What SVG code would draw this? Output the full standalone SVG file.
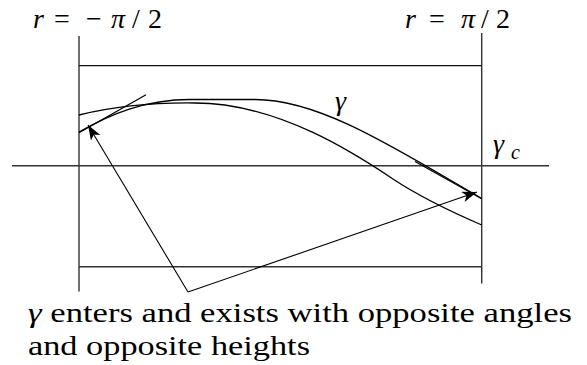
<svg xmlns="http://www.w3.org/2000/svg" width="587" height="365" viewBox="0 0 587 365">
<style>
.ax{stroke:#333;stroke-width:1.4;fill:none}
.bx{stroke:#111;stroke-width:1.2;fill:none}
.cv{stroke:#000;stroke-width:1.3;fill:none}
.ar{stroke:#000;stroke-width:1.1;fill:none}
.m{font-size:28px}
.i{font-style:italic}
.cap{font-size:27px}
</style>
<defs>
<marker id="ah" markerUnits="userSpaceOnUse" markerWidth="18" markerHeight="12" refX="15" refY="5.5" orient="auto">
<path d="M0,0 L15,5.5 L0,11 L4,5.5 z" fill="#000"/>
</marker>
</defs>
<rect width="587" height="365" fill="#fff"/>
<g id="frame">
<line class="ax" x1="79" y1="36" x2="79" y2="291.5"/>
<line class="ax" x1="481.7" y1="33" x2="481.7" y2="283.5"/>
<line class="bx" x1="79" y1="65.7" x2="481.7" y2="65.7"/>
<line class="ax" x1="79" y1="266.7" x2="481.7" y2="266.7"/>
<line class="ax" x1="12" y1="165.7" x2="549" y2="165.7"/>
</g>
<g id="curve-gamma">
<path class="cv" d="M79,132 C110,114.3 145,99.5 190,99.5 L255,99.5 C320,99.5 395,148 481.7,198.5"/>
<line class="cv" x1="79" y1="132.7" x2="146" y2="94.7"/>
<line class="cv" x1="415" y1="161.5" x2="481.7" y2="198.8"/>
</g>
<g id="curve-other">
<path class="cv" d="M79,115 C120,105 160,102.5 195,103 C280,103 360,157 393,179 C417,195 451.7,212 481.7,225"/>
</g>
<g id="connectors">
<line class="ar" x1="188" y1="292" x2="88" y2="125" marker-end="url(#ah)"/>
<line class="ar" x1="188" y1="292" x2="477" y2="192" marker-end="url(#ah)"/>
</g>
<g id="labels" font-family="Liberation Serif, serif" fill="#000">
<text class="m" y="28"><tspan class="i" x="33">r</tspan><tspan x="54">=</tspan><tspan x="86">−</tspan><tspan class="i" x="111">π</tspan><tspan x="132">/</tspan><tspan x="148">2</tspan></text>
<text class="m" y="28"><tspan class="i" x="405">r</tspan><tspan x="429">=</tspan><tspan class="i" x="461">π</tspan><tspan x="481">/</tspan><tspan x="496">2</tspan></text>
<text class="m i" x="335" y="110">γ</text>
<text class="m i" x="493" y="153">γ</text>
<text class="i" x="511" y="159" font-size="20">c</text>
<text class="cap" x="28" y="321.7" textLength="544" lengthAdjust="spacingAndGlyphs"><tspan class="i">γ</tspan> enters and exists with opposite angles</text>
<text class="cap" x="28" y="355" textLength="282" lengthAdjust="spacingAndGlyphs">and opposite heights</text>
</g>
</svg>
